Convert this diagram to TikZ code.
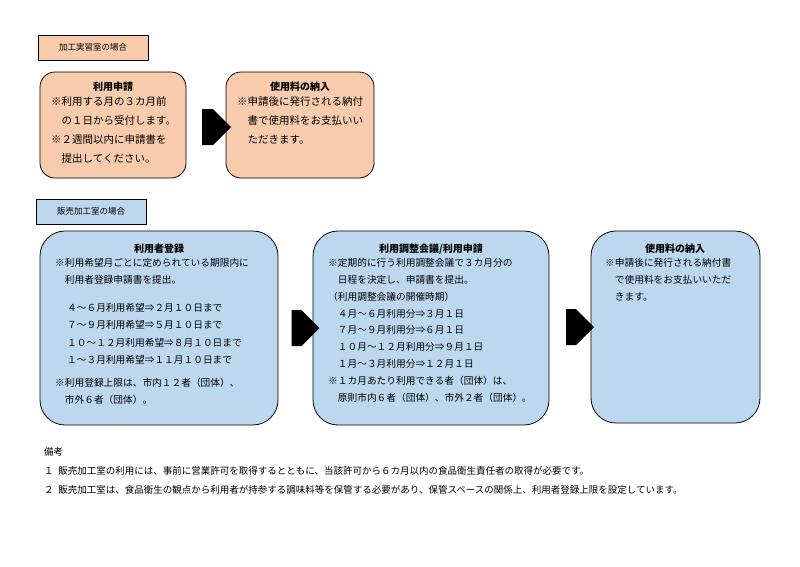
\documentclass[tikz,border=0pt]{standalone}
\usepackage{fontspec}
\setmainfont{Noto Sans CJK JP}
\usetikzlibrary{shapes.arrows}

\definecolor{peach}{HTML}{F8CBAD}
\definecolor{paleblue}{HTML}{BDD7EE}

\tikzset{
  tag/.style={draw, thick, minimum width=110pt, minimum height=25pt, font=\fontsize{8.5}{10}\selectfont},
  stage/.style={draw, thick, rounded corners=#1, anchor=north west},
  body/.style={anchor=north west, align=left, inner sep=0pt},
  heading/.style={anchor=north, inner sep=0pt, font=\fontsize{10}{12}\selectfont\bfseries},
  blockarrow/.style={single arrow, fill=black, minimum width=36pt, minimum height=28pt,
    single arrow head extend=0pt, inner sep=0pt}
}

\begin{document}
\begin{tikzpicture}[x=1pt, y=-1pt]
  \useasboundingbox (0,0) rectangle (800,566);

  % 加工実習室
  \node[tag, fill=peach] (kako) at (93,47.5) {加工実習室の場合};
  \draw[stage=15pt, fill=peach] (40,72) rectangle (186,178);
  \node[heading] (shinsei) at (113,82) {利用申請};
  \node[body, font=\fontsize{10.5}{19.3}\selectfont] at (51,96)
    {※利用する月の３カ月前\\\hspace{1em}の１日から受付します。\\※２週間以内に申請書を\\\hspace{1em}提出してください。};
  \draw[stage=15pt, fill=peach] (226,72) rectangle (374,178);
  \node[heading] (nonyu) at (300,82) {使用料の納入};
  \node[body, font=\fontsize{10.5}{19.3}\selectfont] at (237,96)
    {※申請後に発行される納付\\\hspace{1em}書で使用料をお支払いい\\\hspace{1em}ただきます。};
  \node[blockarrow, minimum height=29pt] (ya1) at (207.5,127) {};

  % 販売加工室
  \node[tag, fill=paleblue] (hanbai) at (91,211.5) {販売加工室の場合};

  \draw[stage=25pt, fill=paleblue] (40,231) rectangle (278,425);
  \node[heading] (toroku) at (159,244) {利用者登録};
  \node[body, font=\fontsize{9.7}{17}\selectfont] at (55,258)
    {※利用希望月ごとに定められている期限内に\\\hspace{1em}利用者登録申請書を提出。};
  \node[body, font=\fontsize{9.7}{17.5}\selectfont] at (67,303)
    {４～６月利用希望⇒２月１０日まで\\７～９月利用希望⇒５月１０日まで\\１０～１２月利用希望⇒８月１０日まで\\１～３月利用希望⇒１１月１０日まで};
  \node[body, font=\fontsize{9.7}{17}\selectfont] at (55,378)
    {※利用登録上限は、市内１２者（団体）、\\\hspace{1em}市外６者（団体）。};

  \draw[stage=25pt, fill=paleblue] (313,231) rectangle (549,425);
  \node[heading] (chosei) at (431,244) {利用調整会議/利用申請};
  \node[body, font=\fontsize{9.7}{16.9}\selectfont] at (328,258)
    {※定期的に行う利用調整会議で３カ月分の\\\hspace{1em}日程を決定し、申請書を提出。\\（利用調整会議の開催時期）\\
     \hspace{1em}４月～６月利用分⇒３月１日\\\hspace{1em}７月～９月利用分⇒６月１日\\
     \hspace{1em}１０月～１２月利用分⇒９月１日\\\hspace{1em}１月～３月利用分⇒１２月１日\\
     ※１カ月あたり利用できる者（団体）は、\\\hspace{1em}原則市内６者（団体）、市外２者（団体）。};

  \draw[stage=25pt, fill=paleblue] (591,231) rectangle (760,423);
  \node[heading] (nonyu2) at (675,244) {使用料の納入};
  \node[body, font=\fontsize{9.7}{16.9}\selectfont] at (605,258)
    {※申請後に発行される納付書\\\hspace{1em}で使用料をお支払いいただ\\\hspace{1em}きます。};

  \node[blockarrow] (ya2) at (296.5,328) {};
  \node[blockarrow] (ya3) at (571,327) {};

  % 備考
  \node[body, font=\fontsize{9.5}{19}\selectfont] (biko) at (44,447)
    {備考\\１\hspace{0.5em}販売加工室の利用には、事前に営業許可を取得するとともに、当該許可から６カ月以内の食品衛生責任者の取得が必要です。\\
     ２\hspace{0.5em}販売加工室は、食品衛生の観点から利用者が持参する調味料等を保管する必要があり、保管スペースの関係上、利用者登録上限を設定しています。};
\end{tikzpicture}
\end{document}
